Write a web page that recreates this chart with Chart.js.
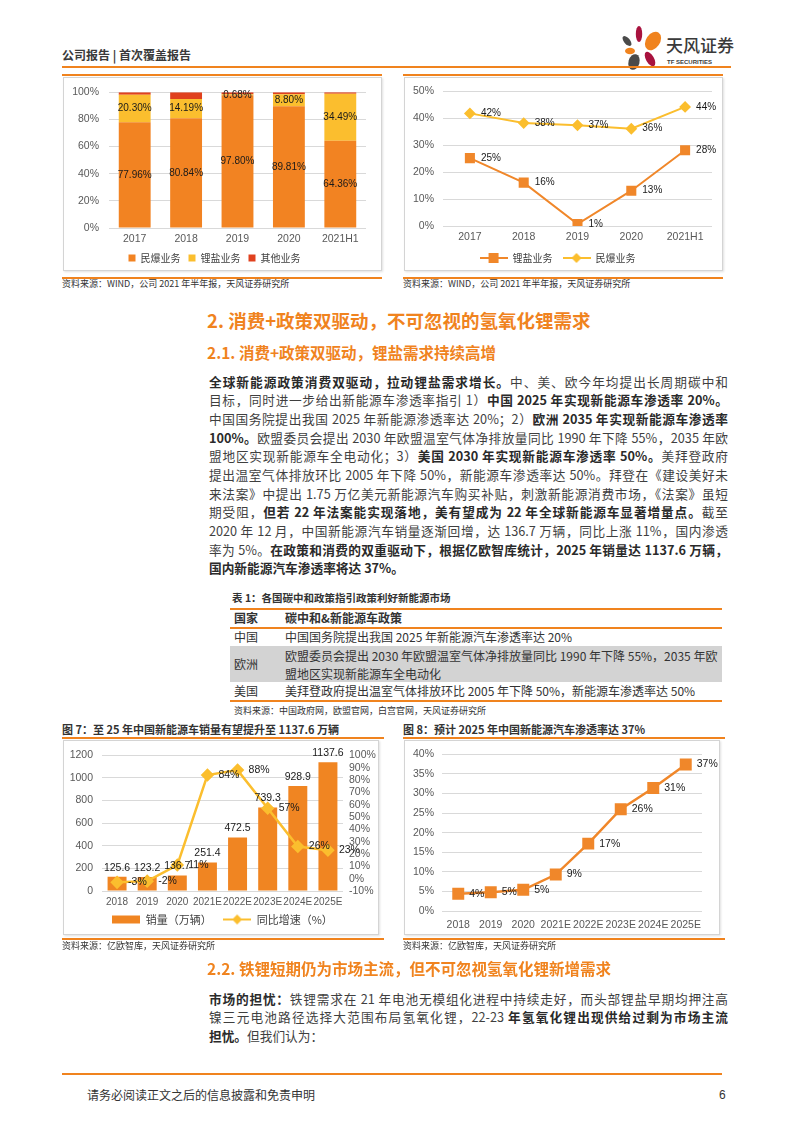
<!DOCTYPE html>
<html>
<head>
<meta charset="utf-8">
<script src="https://cdn.jsdelivr.net/npm/chart.js@4.4.1/dist/chart.umd.min.js"></script>
<style>
body { margin: 0; background: #fff; }
#page { position: relative; width: 793px; height: 1122px; overflow: hidden;
  font-family: "Noto Sans CJK SC", "Noto Sans", sans-serif; color: #3a3a3a; }
.a { position: absolute; white-space: nowrap; }
.oline { position: absolute; height: 2px; background: #F0831E; }
.box { position: absolute; border: 1px solid #d4d4d4; box-shadow: 1px 1px 2px rgba(0,0,0,0.12); }
.src { position: absolute; font-size: 9px; line-height: 12px; color: #333; white-space: nowrap; }
.ftitle { position: absolute; font-size: 11px; line-height: 14px; font-weight: bold; color: #333; white-space: nowrap; }
.h { position: absolute; color: #F0831E; font-weight: bold; white-space: nowrap; }
.para { position: absolute; width: 519px; font-size: 12.7px; color: #3f3f3f; }
.para div { height: 18.7px; line-height: 18.7px; text-align: justify; text-align-last: justify; }
.para div.last { text-align-last: left; }
.para b { color: #2a2a2a; }
canvas { position: absolute; }
.tbl { position: absolute; font-size: 12px; color: #333; white-space: nowrap; }
</style>
</head>
<body>
<div id="page">
  <!-- 页眉 -->
  <div class="a" style="left:62px;top:47px;font-size:12px;line-height:16px;font-weight:bold;color:#3a3a3a;">公司报告 | 首次覆盖报告</div>
  <svg class="a" style="left:618px;top:22px;" width="48" height="50" viewBox="0 0 48 50">
    <ellipse cx="21" cy="12" rx="3.2" ry="8" fill="#A8123E"/>
    <ellipse cx="9" cy="19" rx="3" ry="6" fill="#4a4a4a" transform="rotate(-40 9 19)"/>
    <ellipse cx="35" cy="19" rx="7" ry="10" fill="#F0831E" transform="rotate(35 35 19)"/>
    <ellipse cx="12" cy="29" rx="5" ry="3.2" fill="#F0831E"/>
    <ellipse cx="32" cy="37" rx="4" ry="8" fill="#A8123E" transform="rotate(-30 32 37)"/>
    <ellipse cx="16" cy="40" rx="5.5" ry="8" fill="#4a4a4a" transform="rotate(15 16 40)"/>
  </svg>
  <div class="a" style="left:666px;top:34px;font-size:17px;line-height:22px;color:#3a3a3a;font-weight:500;">天风证券</div>
  <div class="a" style="left:667px;top:58px;font-size:6px;line-height:8px;font-weight:bold;color:#3a3a3a;font-family:'Liberation Sans',sans-serif;">TF SECURITIES</div>
  <div class="oline" style="left:62px;top:66px;width:669px;"></div>

  <!-- 上方两图 -->
  <div class="oline" style="left:62px;top:74px;width:320px;height:1.5px;"></div>
  <div class="oline" style="left:403px;top:74px;width:320px;height:1.5px;"></div>
  <div class="box" style="left:63px;top:77px;width:317px;height:192px;"></div>
  <div class="box" style="left:404px;top:77px;width:317px;height:192px;"></div>
  <canvas id="share" width="315" height="200" style="left:63px;top:76px;"></canvas>
  <canvas id="margin" width="320" height="200" style="left:403px;top:76px;"></canvas>
  <div class="oline" style="left:62px;top:277px;width:320px;height:1.5px;"></div>
  <div class="oline" style="left:403px;top:277px;width:320px;height:1.5px;"></div>
  <div class="src" style="left:62px;top:278px;">资料来源：WIND，公司 2021 年半年报，天风证券研究所</div>
  <div class="src" style="left:403px;top:278px;">资料来源：WIND，公司 2021 年半年报，天风证券研究所</div>

  <!-- 正文 -->
  <div class="h" style="left:207px;top:308px;font-size:18.5px;line-height:24px;">2. 消费+政策双驱动，不可忽视的氢氧化锂需求</div>
  <div class="h" style="left:207px;top:342px;font-size:15.5px;line-height:20px;">2.1. 消费+政策双驱动，锂盐需求持续高增</div>
  <div class="para" style="left:209px;top:372.6px;">
    <div><b>全球新能源政策消费双驱动，拉动锂盐需求增长。</b>中、美、欧今年均提出长周期碳中和</div>
    <div>目标，同时进一步给出新能源车渗透率指引 1）<b>中国 2025 年实现新能源车渗透率 20%。</b></div>
    <div>中国国务院提出我国 2025 年新能源渗透率达 20%；2）<b>欧洲 2035 年实现新能源车渗透率</b></div>
    <div><b>100%。</b>欧盟委员会提出 2030 年欧盟温室气体净排放量同比 1990 年下降 55%，2035 年欧</div>
    <div>盟地区实现新能源车全电动化；3）<b>美国 2030 年实现新能源车渗透率 50%。</b>美拜登政府</div>
    <div>提出温室气体排放环比 2005 年下降 50%，新能源车渗透率达 50%。拜登在《建设美好未</div>
    <div>来法案》中提出 1.75 万亿美元新能源汽车购买补贴，刺激新能源消费市场，《法案》虽短</div>
    <div>期受阻，<b>但若 22 年法案能实现落地，美有望成为 22 年全球新能源车显著增量点。</b>截至</div>
    <div>2020 年 12 月，中国新能源汽车销量逐渐回增，达 136.7 万辆，同比上涨 11%，国内渗透</div>
    <div>率为 5%。<b>在政策和消费的双重驱动下，根据亿欧智库统计，2025 年销量达 1137.6 万辆，</b></div>
    <div class="last"><b>国内新能源汽车渗透率将达 37%。</b></div>
  </div>

  <!-- 表 1 -->
  <div class="ftitle" style="left:232px;top:591px;font-size:10.5px;">表 1：各国碳中和政策指引政策利好新能源市场</div>
  <div class="oline" style="left:230px;top:608px;width:492px;height:1.5px;"></div>
  <div class="tbl" style="left:234px;top:610px;line-height:16px;font-weight:bold;">国家</div>
  <div class="tbl" style="left:285px;top:610px;line-height:16px;font-weight:bold;">碳中和&amp;新能源车政策</div>
  <div class="oline" style="left:230px;top:627px;width:492px;height:1.5px;"></div>
  <div class="tbl" style="left:234px;top:629px;line-height:16px;">中国</div>
  <div class="tbl" style="left:285px;top:629px;line-height:16px;">中国国务院提出我国 2025 年新能源汽车渗透率达 20%</div>
  <div class="a" style="left:230px;top:646px;width:492px;height:36px;background:#d3d3d3;"></div>
  <div class="tbl" style="left:234px;top:656px;line-height:16px;">欧洲</div>
  <div class="tbl" style="left:285px;top:647px;line-height:17.5px;">欧盟委员会提出 2030 年欧盟温室气体净排放量同比 1990 年下降 55%，2035 年欧<br>盟地区实现新能源车全电动化</div>
  <div class="tbl" style="left:234px;top:683px;line-height:16px;">美国</div>
  <div class="tbl" style="left:285px;top:683px;line-height:16px;">美拜登政府提出温室气体排放环比 2005 年下降 50%，新能源车渗透率达 50%</div>
  <div class="oline" style="left:230px;top:700px;width:492px;height:1.5px;"></div>
  <div class="src" style="left:234px;top:705px;">资料来源：中国政府网，欧盟官网，白宫官网，天风证券研究所</div>

  <!-- 图 7 / 图 8 -->
  <div class="ftitle" style="left:62px;top:722px;">图 7：至 25 年中国新能源车销量有望提升至 1137.6 万辆</div>
  <div class="ftitle" style="left:403px;top:722px;">图 8：预计 2025 年中国新能源汽车渗透率达 37%</div>
  <div class="oline" style="left:62px;top:737px;width:322px;height:1.5px;"></div>
  <div class="oline" style="left:403px;top:737px;width:322px;height:1.5px;"></div>
  <div class="box" style="left:63px;top:740px;width:314px;height:193px;"></div>
  <div class="box" style="left:404px;top:740px;width:314px;height:193px;"></div>
  <canvas id="sales" width="319" height="200" style="left:63px;top:740px;"></canvas>
  <canvas id="pen" width="320" height="200" style="left:403px;top:740px;"></canvas>
  <div class="oline" style="left:62px;top:938px;width:322px;height:1.5px;"></div>
  <div class="oline" style="left:403px;top:938px;width:322px;height:1.5px;"></div>
  <div class="src" style="left:62px;top:940px;">资料来源：亿欧智库，天风证券研究所</div>
  <div class="src" style="left:403px;top:940px;">资料来源：亿欧智库，天风证券研究所</div>

  <div class="h" style="left:207px;top:958px;font-size:15.5px;line-height:20px;">2.2. 铁锂短期仍为市场主流，但不可忽视氢氧化锂新增需求</div>
  <div class="para" style="left:209px;top:989.6px;">
    <div><b>市场的担忧：</b>铁锂需求在 21 年电池无模组化进程中持续走好，而头部锂盐早期均押注高</div>
    <div>镍三元电池路径选择大范围布局氢氧化锂，22-23 <b>年氢氧化锂出现供给过剩为市场主流</b></div>
    <div class="last"><b>担忧。</b>但我们认为：</div>
  </div>

  <!-- 页脚 -->
  <div class="oline" style="left:62px;top:1073px;width:660px;"></div>
  <div class="a" style="left:87px;top:1087px;font-size:12px;line-height:16px;color:#333;">请务必阅读正文之后的信息披露和免责申明</div>
  <div class="a" style="left:719px;top:1087px;font-size:12px;line-height:16px;color:#333;font-family:'Liberation Sans',sans-serif;">6</div>
</div>

<script>
// 营收结构（%）
const years = ['2017', '2018', '2019', '2020', '2021H1'];
const blastShare = [77.96, 80.84, 97.80, 89.81, 64.36];
const lithiumShare = [20.30, 14.19, 0.68, 8.80, 34.49];
const otherShare = [1.74, 4.97, 1.52, 1.39, 1.15];

// 毛利率（%）
const lithiumMargin = [25.2, 16.1, 0.7, 13.1, 28.1];
const blastMargin = [41.8, 38.2, 37.4, 36.1, 44.2];

// 新能源车销量（万辆）及同比增速（%）
const salesYears = ['2018', '2019', '2020', '2021E', '2022E', '2023E', '2024E', '2025E'];
const salesVolume = [125.6, 123.2, 136.7, 251.4, 472.5, 739.3, 928.9, 1137.6];
const salesGrowth = [-3, -2, 11, 84, 88, 57, 26, 23];

// 渗透率（%）
const penetration = [4.4, 4.8, 5.4, 9.3, 17.2, 26, 31.4, 37.4];

const ORANGE = '#F0831E';
const YELLOW = '#FBBE2E';
const RED = '#E0411E';
const FONT = '"Liberation Sans", Arial, "Noto Sans CJK SC", sans-serif';

Chart.defaults.font.family = FONT;
Chart.defaults.color = '#595959';
Chart.defaults.animation = false;
Chart.defaults.plugins.tooltip.enabled = false;

// 数据标签
const valueLabels = {
  id: 'valueLabels',
  afterDatasetsDraw(chart) {
    const ctx = chart.ctx;
    chart.data.datasets.forEach((ds, i) => {
      const cfg = ds.valueLabel;
      if (!cfg) return;
      const meta = chart.getDatasetMeta(i);
      ctx.save();
      ctx.font = (cfg.size || 10) + 'px ' + FONT;
      ctx.fillStyle = '#1a1a1a';
      ctx.textBaseline = 'middle';
      meta.data.forEach((el, j) => {
        const txt = cfg.fmt(ds.data[j]);
        let x = el.x, y = el.y;
        if (cfg.pos === 'center') { y = (el.y + el.base) / 2; ctx.textAlign = 'center'; }
        else if (cfg.pos === 'top') { y = el.y - 9; ctx.textAlign = 'center'; }
        else { x = el.x + 11; ctx.textAlign = 'left'; }
        ctx.fillText(txt, x, y);
      });
      ctx.restore();
    });
  }
};

function legendIcon(kind, color) {
  const c = document.createElement('canvas');
  c.width = 28; c.height = 12;
  const g = c.getContext('2d');
  g.fillStyle = color; g.strokeStyle = color;
  if (kind === 'bar') { g.fillRect(0, 2, 28, 8); return c; }
  g.lineWidth = 2;
  g.beginPath(); g.moveTo(0, 6); g.lineTo(28, 6); g.stroke();
  if (kind === 'rect') g.fillRect(9, 1, 10, 10);
  else { g.beginPath(); g.moveTo(14, 1); g.lineTo(19, 6); g.lineTo(14, 11); g.lineTo(9, 6); g.closePath(); g.fill(); }
  return c;
}

function iconLegend(icons, size, padding, spacer) {
  return {
    position: 'bottom',
    labels: {
      usePointStyle: true, pointStyleWidth: 28, padding: padding, color: '#404040',
      font: { size: size, family: '"Noto Sans CJK SC", sans-serif' },
      sort: (a, b) => a.datasetIndex - b.datasetIndex,
      generateLabels(chart) {
        const items = Chart.defaults.plugins.legend.labels.generateLabels(chart);
        return items.map(item => {
          item.pointStyle = icons[item.datasetIndex];
          if (spacer && item.datasetIndex < items.length - 1) item.text += spacer;
          return item;
        });
      }
    }
  };
}

const pct = v => v + '%';
const flatTicks = { font: { size: 10.5 }, maxRotation: 0, minRotation: 0, autoSkip: false };

// 图：营收结构
new Chart(document.getElementById('share'), {
  type: 'bar',
  data: {
    labels: years,
    datasets: [
      { label: '民爆业务', data: blastShare, backgroundColor: '#F28322',
        valueLabel: { pos: 'center', fmt: v => v.toFixed(2) + '%' } },
      { label: '锂盐业务', data: lithiumShare, backgroundColor: YELLOW,
        valueLabel: { pos: 'center', fmt: v => v.toFixed(2) + '%' } },
      { label: '其他业务', data: otherShare, backgroundColor: RED }
    ]
  },
  options: {
    responsive: false,
    layout: { padding: { top: 15, right: 12, bottom: 3, left: 0 } },
    datasets: { bar: { categoryPercentage: 1, barPercentage: 0.62 } },
    scales: {
      x: {
        stacked: true,
        grid: { display: false, drawTicks: false },
        border: { display: false },
        ticks: { ...flatTicks, padding: 5 },
        afterFit: s => { s.height = 17; }
      },
      y: {
        stacked: true, min: 0, max: 100,
        grid: { color: '#d9d9d9', drawTicks: false },
        border: { display: false },
        ticks: { stepSize: 20, callback: pct, font: { size: 10.5 }, padding: 10 },
        afterFit: s => { s.width = 46; }
      }
    },
    plugins: {
      legend: {
        position: 'bottom',
        labels: { boxWidth: 7, boxHeight: 7, padding: 8, color: '#404040',
          font: { size: 10, family: '"Noto Sans CJK SC", sans-serif' } }
      }
    }
  },
  plugins: [valueLabels]
});

// 图：毛利率
new Chart(document.getElementById('margin'), {
  type: 'line',
  data: {
    labels: years,
    datasets: [
      { label: '锂盐业务', data: lithiumMargin, borderColor: '#F0872A', backgroundColor: '#F0872A',
        borderWidth: 2, pointStyle: 'rect', pointRadius: 5.7,
        valueLabel: { pos: 'right', fmt: v => Math.round(v) + '%' } },
      { label: '民爆业务', data: blastMargin, borderColor: YELLOW, backgroundColor: YELLOW,
        borderWidth: 2, pointStyle: 'rectRot', pointRadius: 4.5,
        valueLabel: { pos: 'right', fmt: v => Math.round(v) + '%' } }
    ]
  },
  options: {
    responsive: false,
    layout: { padding: { top: 15, right: 11, bottom: 3, left: 0 } },
    scales: {
      x: {
        offset: true,
        grid: { display: false, drawTicks: false },
        border: { display: false },
        ticks: { ...flatTicks, padding: 5 },
        afterFit: s => { s.height = 17; }
      },
      y: {
        min: 0, max: 50,
        grid: { color: '#d9d9d9', drawTicks: false },
        border: { display: false },
        ticks: { stepSize: 10, callback: pct, font: { size: 10.5 }, padding: 9 },
        afterFit: s => { s.width = 40; }
      }
    },
    plugins: { legend: iconLegend([legendIcon('rect', '#F0872A'), legendIcon('diamond', YELLOW)], 10, 10, '') }
  },
  plugins: [valueLabels]
});

// 图 7：销量与增速
new Chart(document.getElementById('sales'), {
  data: {
    labels: salesYears,
    datasets: [
      { type: 'bar', label: '销量（万辆）', data: salesVolume, backgroundColor: '#F08522',
        yAxisID: 'y', order: 1, categoryPercentage: 1, barPercentage: 0.63,
        valueLabel: { pos: 'top', size: 10.5, fmt: v => v.toFixed(1) } },
      { type: 'line', label: '同比增速（%）', data: salesGrowth, borderColor: YELLOW, backgroundColor: YELLOW,
        borderWidth: 2.5, pointStyle: 'rectRot', pointRadius: 5, yAxisID: 'y1', order: 0,
        valueLabel: { pos: 'right', size: 10.5, fmt: v => v + '%' } }
    ]
  },
  options: {
    responsive: false,
    layout: { padding: { top: 13, right: 0, bottom: 5, left: 0 } },
    scales: {
      x: {
        grid: { display: false, drawTicks: false },
        border: { display: false },
        ticks: { ...flatTicks, font: { size: 10 }, padding: 5 },
        afterFit: s => { s.height = 17; }
      },
      y: {
        position: 'left', min: 0, max: 1200,
        grid: { color: '#d9d9d9', drawTicks: false },
        border: { display: false },
        ticks: { stepSize: 200, callback: v => String(v), font: { size: 10.5 }, padding: 9 },
        afterFit: s => { s.width = 39; }
      },
      y1: {
        position: 'right', min: -10, max: 100,
        grid: { display: false, drawTicks: false },
        border: { display: false },
        ticks: { stepSize: 10, callback: pct, font: { size: 10.5 }, padding: 6, autoSkip: false },
        afterFit: s => { s.width = 39; }
      }
    },
    plugins: { legend: iconLegend([legendIcon('bar', '#F08522'), legendIcon('diamond', YELLOW)], 11, 6, '\u3000') }
  },
  plugins: [valueLabels]
});

// 图 8：渗透率
new Chart(document.getElementById('pen'), {
  type: 'line',
  data: {
    labels: salesYears,
    datasets: [
      { label: '渗透率', data: penetration, borderColor: '#F0872A', backgroundColor: '#F0872A',
        borderWidth: 2.5, pointStyle: 'rect', pointRadius: 6.7,
        valueLabel: { pos: 'right', size: 10.5, fmt: v => Math.round(v) + '%' } }
    ]
  },
  options: {
    responsive: false,
    layout: { padding: { top: 13, right: 21, bottom: 7, left: 0 } },
    scales: {
      x: {
        offset: true,
        grid: { display: false, drawTicks: false },
        border: { display: false },
        ticks: { ...flatTicks, padding: 8 },
        afterFit: s => { s.height = 22; }
      },
      y: {
        min: 0, max: 40,
        grid: { color: '#d9d9d9', drawTicks: false },
        border: { display: false },
        ticks: { stepSize: 5, callback: pct, font: { size: 10.5 }, padding: 8 },
        afterFit: s => { s.width = 39; }
      }
    },
    plugins: { legend: { display: false } }
  },
  plugins: [valueLabels]
});
</script>
</body>
</html>
